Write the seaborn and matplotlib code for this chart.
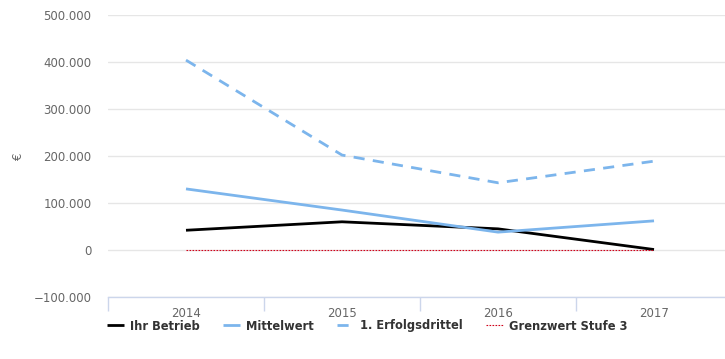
import matplotlib
matplotlib.use("Agg")
import matplotlib.pyplot as plt
from matplotlib.ticker import FuncFormatter, FixedLocator, NullFormatter
import numpy as np
import pandas as pd
import seaborn as sns

years = ["2014", "2015", "2016", "2017"]
ihr_betrieb = [42000, 60000, 45000, 1000]
mittelwert = [130000, 85000, 38000, 62000]
erfolgsdrittel = [404000, 202000, 143000, 189000]
grenzwert = [0, 0, 0, 0]

series = [
    ("Ihr Betrieb", ihr_betrieb, dict(color="#000000", lw=2.0, ls="-")),
    ("Mittelwert", mittelwert, dict(color="#7cb5ec", lw=2.0, ls="-")),
    ("1. Erfolgsdrittel", erfolgsdrittel, dict(color="#7cb5ec", lw=2.0, ls=(0, (4, 3)))),
    ("Grenzwert Stufe 3", grenzwert, dict(color="#d0021b", lw=0.8, ls=(0, (1.5, 1.2)))),
]

sns.set_theme(style="white")
plt.rcParams["font.family"] = ["DejaVu Sans"]

fig = plt.figure(figsize=(7.25, 3.59), dpi=100)
W, H = 725, 359
ax = fig.add_axes([108 / W, 1 - 297 / H, (725 - 108) / W, (297 - 15) / H])

x = np.arange(len(years))
for name, vals, st in series:
    df = pd.DataFrame({"x": x, "y": vals})
    sns.lineplot(data=df, x="x", y="y", ax=ax, color=st["color"],
                 linewidth=st["lw"], linestyle=st["ls"], label=name,
                 solid_capstyle="butt", dash_capstyle="butt")

ax.set_ylim(-100000, 500000)
ax.set_xlim(-0.5, 3.455)
ax.yaxis.set_major_locator(FixedLocator(np.arange(-100000, 500001, 100000)))
ax.yaxis.set_major_formatter(FuncFormatter(
    lambda v, p: "0" if v == 0 else f"{int(v):,}".replace(",", ".").replace("-", "\u2212")))
ax.grid(axis="y", color="#e6e6e6", linewidth=1.0)
ax.set_axisbelow(True)

ax.set_xticks(x)
ax.set_xticklabels(years)
ax.xaxis.set_minor_locator(FixedLocator([-0.5, 0.5, 1.5, 2.5]))
ax.xaxis.set_minor_formatter(NullFormatter())
ax.tick_params(axis="x", which="major", length=0, pad=7, labelsize=8.5, labelcolor="#666666")
ax.tick_params(axis="x", which="minor", length=10, width=1, color="#ccd6eb", bottom=True)
ax.tick_params(axis="y", length=0, pad=12, labelsize=8.5, labelcolor="#666666")

for s in ["top", "right", "left"]:
    ax.spines[s].set_visible(False)
ax.spines["bottom"].set_color("#ccd6eb")
ax.spines["bottom"].set_linewidth(1.0)

ax.set_xlabel("")
ax.set_ylabel("")
fig.text(18 / W, 1 - 156 / H, "€", rotation=90, color="#666666", fontsize=8.5,
         ha="center", va="center")

handles, labels = ax.get_legend_handles_labels()
if ax.legend_:
    ax.legend_.remove()
leg = fig.legend(handles, labels, loc="center", bbox_to_anchor=(367 / W, 1 - 326 / H),
                 ncol=4, frameon=False, fontsize=8.3, handlelength=1.5, columnspacing=2.0,
                 handletextpad=0.5, borderpad=0, borderaxespad=0)
for t in leg.get_texts():
    t.set_color("#333333")
    t.set_fontweight("semibold")

fig.savefig("out.png", dpi=100)
